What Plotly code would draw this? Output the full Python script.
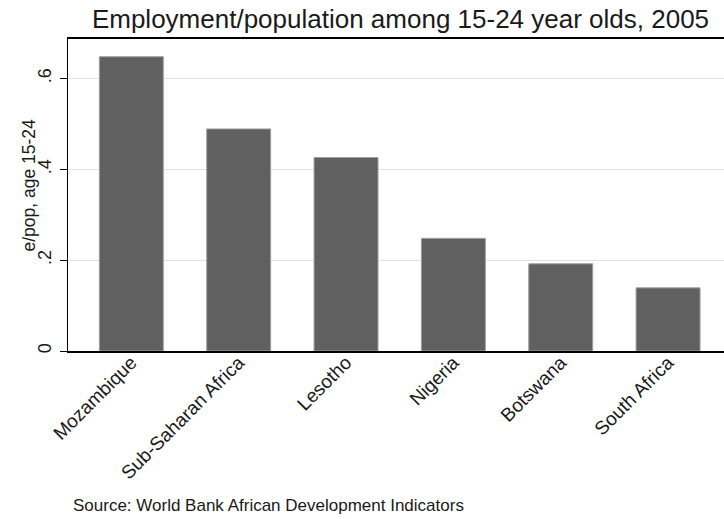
import plotly.graph_objects as go

countries = ["Mozambique", "Sub-Saharan Africa", "Lesotho", "Nigeria", "Botswana", "South Africa"]
epop = [0.648, 0.489, 0.426, 0.248, 0.192, 0.139]
ytick_vals = [0, 0.2, 0.4, 0.6]
ytick_text = ["0", ".2", ".4", ".6"]

FONT = "Liberation Sans, Arial, sans-serif"
TXT = "#1a1a1a"

fig = go.Figure()
fig.add_trace(go.Bar(
    x=list(range(len(countries))), y=epop,
    width=0.596,
    marker=dict(color="#606060", line=dict(color="#a0a0a0", width=1)),
))

fig.update_layout(
    width=724, height=519,
    margin=dict(l=68, r=0, t=39, b=168, autoexpand=False),
    paper_bgcolor="white", plot_bgcolor="white",
    showlegend=False,
    font=dict(family=FONT, color=TXT, size=17),
    title=dict(text="Employment/population among 15-24 year olds, 2005",
               font=dict(family=FONT, size=26, color=TXT),
               x=400.5/724, xanchor="center", xref="container",
               y=1-19/519, yanchor="middle", yref="container"),
    xaxis=dict(
        range=[-0.590, 5.521], automargin=False,
        tickvals=list(range(len(countries))), ticktext=countries,
        tickangle=-45, tickfont=dict(size=19, color=TXT),
        ticklabelstandoff=-9,
        showline=True, linecolor="black", linewidth=2, mirror=True,
        ticks="", showgrid=False, zeroline=False,
    ),
    yaxis=dict(
        range=[0, 0.687], automargin=False,
        tickvals=ytick_vals, ticktext=ytick_text,
        tickangle=-90, tickfont=dict(size=18, color=TXT),
        ticks="outside", ticklen=7, tickcolor="black", tickwidth=1,
        ticklabelstandoff=2,
        showline=True, linecolor="black", linewidth=1,
        showgrid=True, gridcolor="#e2e2e2", gridwidth=1,
        zeroline=False,
    ),
    annotations=[
        dict(text="e/pop, age 15-24", xref="paper", yref="paper",
             x=(28-68)/656, y=(351.5-186)/312, textangle=-90,
             showarrow=False, xanchor="center", yanchor="middle",
             font=dict(family=FONT, size=17.5, color=TXT)),
        dict(text="Source: World Bank African Development Indicators",
             xref="paper", yref="paper",
             x=(71-68)/656, y=(351.5-506)/312,
             showarrow=False, xanchor="left", yanchor="middle",
             font=dict(family=FONT, size=17, color=TXT)),
    ],
)

fig.write_html("out.html",
               config={"displayModeBar": False},
               post_script="document.body.style.margin='0';document.body.style.padding='0';")
